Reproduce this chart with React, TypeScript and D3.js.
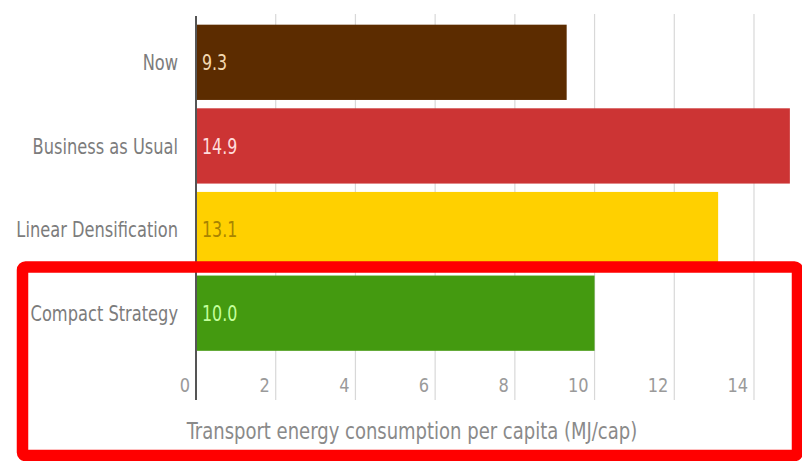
import React from "react";
import * as d3 from "d3";

const categories = ["Now", "Business as Usual", "Linear Densification", "Compact Strategy"];
const values = [9.3, 14.9, 13.1, 10.0];
const valueLabels = ["9.3", "14.9", "13.1", "10.0"];
const barColors = ["#5c2c00", "#cc3434", "#ffd000", "#449a10"];
const labelColors = ["#f2d8b0", "#ffdcdc", "#a88400", "#c4ff9c"];
const ticks = [0, 2, 4, 6, 8, 10, 12, 14];
const axisTitle = "Transport energy consumption per capita (MJ/cap)";

const W = 802;
const H = 461;
const FONT = "'Liberation Sans Narrow', 'DejaVu Sans Condensed', 'Roboto Condensed', sans-serif";

type NTProps = {
  x: number;
  y: number;
  sx: number;
  anchor?: "start" | "middle" | "end";
  size: number;
  fill: string;
  dy?: string;
  children: React.ReactNode;
};

function NarrowText({ x, y, sx, anchor = "start", size, fill, dy, children }: NTProps) {
  return (
    <text
      transform={`translate(${x},${y}) scale(${sx},1)`}
      textAnchor={anchor}
      dy={dy}
      fontFamily={FONT}
      fontSize={size}
      fill={fill}
    >
      {children}
    </text>
  );
}

export default function App() {
  const x = d3.scaleLinear().domain([0, 14]).range([196, 754]);
  const y = d3
    .scaleBand<string>()
    .domain(categories)
    .range([20.5, 355])
    .paddingInner(0.1)
    .paddingOuter(0.05);

  return (
    <svg
      width={W}
      height={H}
      style={{ position: "absolute", left: 0, top: 0, display: "block", background: "#fff" }}
    >
      {ticks
        .filter((t) => t !== 0)
        .map((t) => (
          <line key={t} x1={x(t)} x2={x(t)} y1={14} y2={400} stroke="#d8d8d8" strokeWidth={1.2} />
        ))}
      {categories.map((c, i) => (
        <rect
          key={c}
          x={x(0)}
          y={y(c)}
          width={x(values[i]) - x(0)}
          height={y.bandwidth()}
          fill={barColors[i]}
        />
      ))}
      <line x1={x(0)} x2={x(0)} y1={16} y2={400} stroke="#555" strokeWidth={2} />
      {categories.map((c) => (
        <NarrowText
          key={c}
          x={178}
          y={(y(c) as number) + y.bandwidth() / 2}
          dy="0.36em"
          anchor="end"
          sx={0.86}
          size={21}
          fill="#7c7c7c"
        >
          {c}
        </NarrowText>
      ))}
      {categories.map((c, i) => (
        <NarrowText
          key={c}
          x={x(0) + 6}
          y={(y(c) as number) + y.bandwidth() / 2}
          dy="0.36em"
          sx={0.84}
          size={21}
          fill={labelColors[i]}
        >
          {valueLabels[i]}
        </NarrowText>
      ))}
      {ticks.map((t) => (
        <NarrowText key={t} x={x(t) - 6} y={392} anchor="end" sx={0.9} size={20} fill="#9a9a9a">
          {t}
        </NarrowText>
      ))}
      <NarrowText x={412} y={439} anchor="middle" sx={0.87} size={23} fill="#8a8a8a">
        {axisTitle}
      </NarrowText>
      <rect
        x={22.5}
        y={267}
        width={775}
        height={188.5}
        rx={3}
        fill="none"
        stroke="#ff0000"
        strokeWidth={11.5}
      />
    </svg>
  );
}
